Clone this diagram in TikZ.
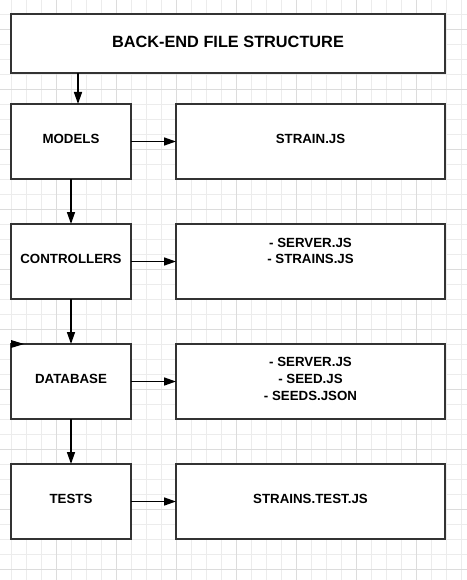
\documentclass[tikz,border=0pt]{standalone}
\usepackage{fontspec}
\setmainfont{Liberation Sans}
\usetikzlibrary{positioning,arrows.meta}
\definecolor{gridminor}{RGB}{236,236,236}
\definecolor{gridmajor}{RGB}{220,220,220}
\definecolor{boxline}{RGB}{51,51,51}

\begin{document}
\begin{tikzpicture}[x=1bp, y=-1bp, node distance=45bp,
	box/.style = {draw=boxline, line width=2bp, fill=white, outer sep=0pt, minimum height=75bp},
	leftbox/.style = {box, minimum width=120bp},
	rightbox/.style = {box, minimum width=269bp},
	txt/.style = {font=\fontsize{13.3bp}{16.8bp}\selectfont\bfseries, align=center, inner sep=0pt},
	arr/.style = {-{Triangle[length=12bp, width=8bp]}, line width=1.5bp}]
	\useasboundingbox (0,0) rectangle (467,580);
	% grid
	\foreach \k in {0,...,30} \draw[gridminor, line width=1bp] (11+15*\k,0) -- (11+15*\k,580);
	\foreach \k in {0,...,37} \draw[gridminor, line width=1bp] (0,14.3+15*\k) -- (467,14.3+15*\k);
	\foreach \k in {0,...,6} \draw[gridmajor, line width=1bp] (56+60*\k,0) -- (56+60*\k,580);
	\foreach \k in {0,...,9} \draw[gridmajor, line width=1bp] (0,29.3+60*\k) -- (467,29.3+60*\k);
	% boxes
	\node[box, minimum width=434bp, minimum height=59bp, anchor=north west] (title) at (11,14.5) {};
	\node[leftbox, below right=30.5bp and 0bp of title.south west] (models) {};
	\node[leftbox, below=of models] (controllers) {};
	\node[leftbox, below=of controllers] (database) {};
	\node[leftbox, below=of database] (tests) {};
	\node[rightbox, right=of models] (strainfile) {};
	\node[rightbox, right=of controllers] (ctrlfiles) {};
	\node[rightbox, right=of database] (dbfiles) {};
	\node[rightbox, right=of tests] (testfiles) {};
	% texts
	\node[txt, font=\fontsize{16.3bp}{20bp}\selectfont\bfseries] (title-txt) at ([yshift=2bp]title.center) {BACK-END FILE STRUCTURE};
	\node[txt] (models-txt) at ([yshift=2.5bp]models.center) {MODELS};
	\node[txt] (controllers-txt) at ([yshift=2.5bp]controllers.center) {CONTROLLERS};
	\node[txt] (database-txt) at ([yshift=2.5bp]database.center) {DATABASE};
	\node[txt] (tests-txt) at ([yshift=2.5bp]tests.center) {TESTS};
	\node[txt] (strainfile-txt) at ([yshift=2.5bp]strainfile.center) {STRAIN.JS};
	\node[txt] (ctrlfiles-txt) at ([yshift=10.5bp]ctrlfiles.center) {- SERVER.JS\\- STRAINS.JS};
	\node[txt] (dbfiles-txt) at ([yshift=2.8bp]dbfiles.center) {- SERVER.JS\\- SEED.JS\\- SEEDS.JSON};
	\node[txt] (testfiles-txt) at ([yshift=2.2bp]testfiles.center) {STRAINS.TEST.JS};
	% connectors
	\draw[arr] ([xshift=7bp]models.north |- title.south) -- ([xshift=7bp]models.north);
	\draw[arr] (models) -- (controllers);
	\draw[arr] (controllers) -- (database);
	\draw[arr] (database) -- (tests);
	\draw[arr] (models) -- (strainfile);
	\draw[arr] (controllers) -- (ctrlfiles);
	\draw[arr] (database) -- (dbfiles);
	\draw[arr] (tests) -- (testfiles);
	\fill ([yshift=4bp]database.north west) -- ++(13,4) -- ++(-13,4) -- cycle;
\end{tikzpicture}
\end{document}
